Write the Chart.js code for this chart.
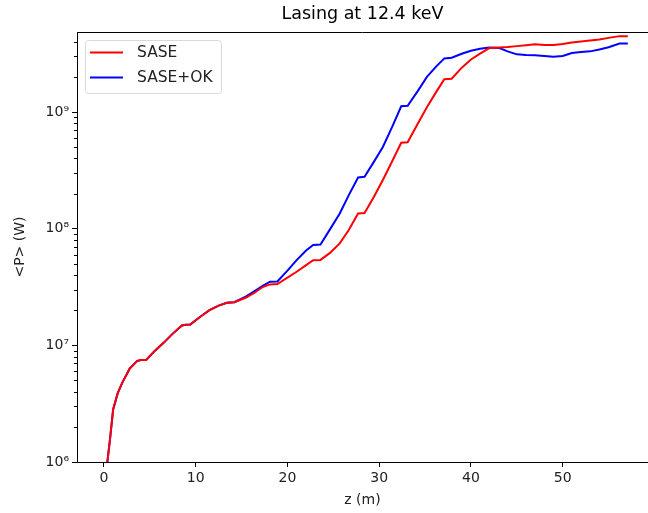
<!DOCTYPE html>
<html>
<head>
<meta charset="utf-8">
<script src="https://cdn.jsdelivr.net/npm/chart.js@4/dist/chart.umd.min.js"></script>
<style>
  html, body { margin: 0; padding: 0; background: #fff; }
  #wrap { width: 648px; height: 513px; }
</style>
</head>
<body>
<div id="wrap"><canvas id="power-chart"></canvas></div>
<script>
// z positions along the undulator (m)
var zPos = [0.3, 0.65, 1.0, 1.5, 2.0, 2.8, 3.6, 4.0, 4.6, 5.5, 6.5, 7.5, 8.5, 8.9, 9.4,
  10.5, 11.5, 12.5, 13.4, 14.2, 15.5, 16.5, 17.3, 18.1, 18.9, 20.0, 21.0, 22.0, 22.8, 23.6,
  24.6, 25.7, 26.7, 27.7, 28.4, 29.4, 30.4, 31.4, 32.4, 33.1, 34.2, 35.2, 36.2, 37.1, 37.9,
  39.0, 40.0, 41.0, 42.0, 43.1, 44.0, 45.0, 46.0, 47.0, 48.0, 49.0, 50.0, 51.0, 52.0, 53.0,
  54.0, 55.0, 56.2, 57.1];

// average power <P> (W)
var sasePower = [9.0e5, 1.55e6, 2.82e6, 3.89e6, 4.79e6, 6.31e6, 7.33e6, 7.48e6, 7.5e6, 8.91e6,
  1.05e7, 1.26e7, 1.48e7, 1.50e7, 1.51e7, 1.76e7, 2.0e7, 2.19e7, 2.32e7, 2.34e7,
  2.57e7, 2.85e7, 3.16e7, 3.33e7, 3.35e7, 3.80e7, 4.27e7, 4.84e7, 5.37e7, 5.4e7,
  6.17e7, 7.48e7, 9.77e7, 1.35e8, 1.36e8, 1.86e8, 2.61e8, 3.76e8, 5.45e8, 5.5e8,
  7.94e8, 1.10e9, 1.48e9, 1.91e9, 1.93e9, 2.40e9, 2.82e9, 3.16e9, 3.53e9, 3.57e9,
  3.61e9, 3.67e9, 3.73e9, 3.80e9, 3.75e9, 3.76e9, 3.82e9, 3.94e9, 4.02e9, 4.11e9,
  4.19e9, 4.32e9, 4.47e9, 4.47e9];

var okPower = [9.0e5, 1.55e6, 2.82e6, 3.89e6, 4.79e6, 6.31e6, 7.33e6, 7.48e6, 7.5e6, 8.91e6,
  1.05e7, 1.26e7, 1.48e7, 1.50e7, 1.51e7, 1.76e7, 2.0e7, 2.19e7, 2.32e7, 2.34e7,
  2.63e7, 2.95e7, 3.24e7, 3.51e7, 3.53e7, 4.37e7, 5.37e7, 6.46e7, 7.24e7, 7.3e7,
  9.77e7, 1.35e8, 1.95e8, 2.75e8, 2.78e8, 3.72e8, 5.01e8, 7.41e8, 1.12e9, 1.13e9,
  1.51e9, 2.0e9, 2.45e9, 2.88e9, 2.92e9, 3.16e9, 3.35e9, 3.48e9, 3.57e9, 3.53e9,
  3.31e9, 3.12e9, 3.08e9, 3.07e9, 3.02e9, 2.97e9, 3.02e9, 3.20e9, 3.27e9, 3.31e9,
  3.43e9, 3.59e9, 3.86e9, 3.86e9];

var xTicks = [0, 10, 20, 30, 40, 50];
var yDecades = [1e6, 1e7, 1e8, 1e9];
var supers = { 6: '\u2076', 7: '\u2077', 8: '\u2078', 9: '\u2079' };

function toPoints(xs, ys) {
  return xs.map(function (x, i) { return { x: x, y: ys[i] }; });
}

// minor log ticks + top spine (right spine is cut off in the original)
var framePlugin = {
  id: 'frame',
  afterDraw: function (chart) {
    var ctx = chart.ctx, a = chart.chartArea, y = chart.scales.y;
    ctx.save();
    ctx.strokeStyle = '#000';
    ctx.lineWidth = 1;
    ctx.beginPath();
    ctx.moveTo(a.left, a.top + 0.5);
    ctx.lineTo(a.right, a.top + 0.5);
    ctx.stroke();
    ctx.beginPath();
    for (var e = 6; e <= 9; e++) {
      for (var m = 2; m <= 9; m++) {
        var v = m * Math.pow(10, e);
        if (v > y.max) continue;
        var py = Math.round(y.getPixelForValue(v)) + 0.5;
        ctx.moveTo(a.left, py);
        ctx.lineTo(a.left - 3, py);
      }
    }
    ctx.stroke();
    ctx.restore();
  }
};

var ctx = document.getElementById('power-chart').getContext('2d');
new Chart(ctx, {
  type: 'line',
  data: {
    datasets: [{
      label: 'SASE',
      data: toPoints(zPos, sasePower),
      borderColor: '#ff0000',
      backgroundColor: '#ff0000',
      borderWidth: 2,
      pointRadius: 0,
      tension: 0,
    }, {
      label: 'SASE+OK',
      data: toPoints(zPos, okPower),
      borderColor: '#0000ff',
      backgroundColor: '#0000ff',
      borderWidth: 2,
      pointRadius: 0,
      tension: 0,
    }],
  },
  options: {
    responsive: true,
    maintainAspectRatio: false,
    animation: false,
    layout: { padding: { left: 0, right: 0, top: 0, bottom: 0 } },
    plugins: {
      title: {
        display: true,
        fullSize: false,
        text: 'Lasing at 12.4 keV',
        color: '#000',
        font: { family: 'DejaVu Sans', size: 17.5, weight: 'normal' },
        padding: { top: 4, bottom: 7 },
      },
      legend: { display: false },
      tooltip: { enabled: false },
    },
    scales: {
      x: {
        type: 'linear',
        min: -2.94,
        max: 59.3,
        afterBuildTicks: function (s) { s.ticks = xTicks.map(function (v) { return { value: v }; }); },
        afterFit: function (s) { s.height = 51; },
        grid: { drawOnChartArea: false, tickLength: 5, color: '#000', tickColor: '#000' },
        border: { color: '#000', width: 1 },
        ticks: { color: '#222', font: { family: 'DejaVu Sans', size: 14 }, padding: 3, maxRotation: 0 },
        title: { display: true, text: 'z (m)', color: '#222', font: { family: 'DejaVu Sans', size: 14 }, padding: { top: 2 } },
      },
      y: {
        type: 'logarithmic',
        min: 1e6,
        max: 4.85e9,
        afterBuildTicks: function (s) { s.ticks = yDecades.map(function (v) { return { value: v }; }); },
        afterFit: function (s) { s.width = 77; },
        grid: { drawOnChartArea: false, tickLength: 5, color: '#000', tickColor: '#000' },
        border: { color: '#000', width: 1 },
        ticks: {
          color: '#222',
          font: { family: 'DejaVu Sans', size: 14 },
          padding: 3,
          callback: function (v) { return '10' + supers[Math.round(Math.log10(v))]; },
        },
        title: { display: true, text: '<P> (W)', color: '#222', font: { family: 'DejaVu Sans', size: 14 }, padding: { top: 12, bottom: 4 } },
      },
    },
  },
  plugins: [framePlugin, {
    // matplotlib style legend box
    id: 'boxLegend',
    afterDraw: function (chart) {
      var c = chart.ctx;
      var items = chart.data.datasets;
      c.save();
      c.fillStyle = 'rgba(255,255,255,0.8)';
      c.strokeStyle = '#d9d9d9';
      c.lineWidth = 1;
      c.beginPath();
      c.roundRect(85.5, 40.5, 136, 53, 3);
      c.fill();
      c.stroke();
      c.font = '15.5px "DejaVu Sans"';
      c.textBaseline = 'middle';
      items.forEach(function (d, i) {
        var yy = 52.5 + i * 25;
        c.strokeStyle = d.borderColor;
        c.lineWidth = 2;
        c.beginPath();
        c.moveTo(90, yy);
        c.lineTo(123, yy);
        c.stroke();
        c.fillStyle = '#222';
        c.fillText(d.label, 137, yy);
      });
      c.restore();
    }
  }],
});
</script>
</body>
</html>
